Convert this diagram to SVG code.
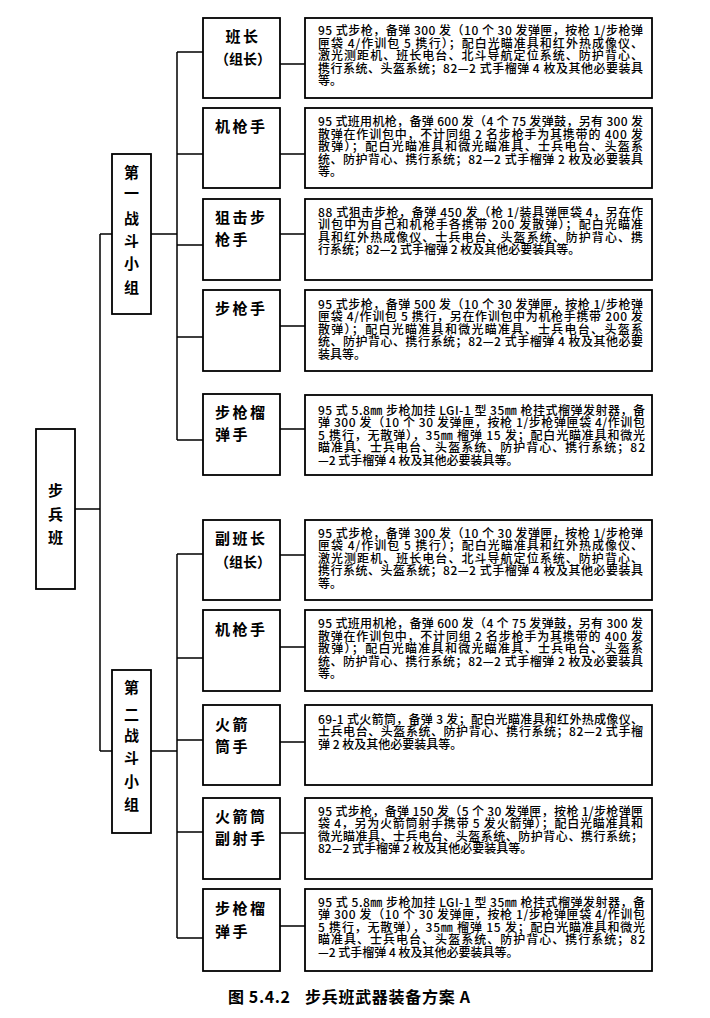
<svg xmlns="http://www.w3.org/2000/svg" width="710" height="1018" viewBox="0 0 710 1018">
<style>
.bx{fill:#fff;stroke:#000;stroke-width:1.8}
.ln{stroke:#000;stroke-width:1.5;fill:none}
.lb{font-family:"Noto Sans CJK SC","Noto Sans CJK TC",sans-serif;font-size:15px;font-weight:bold;fill:#000;letter-spacing:2.5px}
.gv{font-family:"Noto Sans CJK SC","Noto Sans CJK TC",sans-serif;font-size:15px;font-weight:bold;fill:#000;text-anchor:middle}
.ds{font-family:"Noto Sans CJK SC","Noto Sans CJK TC",sans-serif;font-size:12px;font-weight:500;fill:#000}
.cap{font-family:"Noto Sans CJK SC","Noto Sans CJK TC",sans-serif;font-size:16px;font-weight:bold;fill:#000}
</style>
<rect width="710" height="1018" fill="#fff"/>
<g id="connectors">
<path class="ln" d="M75 509H100M100 234V751M100 234H112M100 751H112"/>
<path class="ln" d="M151 234H177M177 52V440M177 52H203M177 154H203M177 245H203M177 337H203M177 440H203"/>
<path class="ln" d="M151 751H177M177 554V938M177 554H203M177 658H203M177 740H203M177 832H203M177 938H203"/>
<path class="ln" d="M280 64H305M280 154H305M280 234H305M280 326H305M280 429H305"/>
<path class="ln" d="M280 555H305M280 647H305M280 742H305M280 833H305M280 926H305"/>
</g>
<g id="squad">
<rect class="bx" x="36" y="429" width="39" height="160"/>
<text class="gv" x="55.5" y="496">步<tspan x="55.5" y="520">兵</tspan><tspan x="55.5" y="543">班</tspan></text>
</g>
<g id="group1">
<rect class="bx" x="112" y="154" width="39" height="160"/>
<text class="gv" x="131.5" y="178">第<tspan x="131.5" y="199">一</tspan><tspan x="131.5" y="224">战</tspan><tspan x="131.5" y="246">斗</tspan><tspan x="131.5" y="269">小</tspan><tspan x="131.5" y="293">组</tspan></text>
</g>
<g id="group2">
<rect class="bx" x="112" y="670" width="39" height="163"/>
<text class="gv" x="131.5" y="693">第<tspan x="131.5" y="720">二</tspan><tspan x="131.5" y="741">战</tspan><tspan x="131.5" y="763">斗</tspan><tspan x="131.5" y="787">小</tspan><tspan x="131.5" y="810">组</tspan></text>
</g>
<g id="r1">
<rect class="bx" x="203" y="18" width="77" height="80"/>
<text class="lb" x="243" y="41.5" text-anchor="middle">班长</text>
<text class="lb" x="243" y="64" text-anchor="middle" style="font-size:14px;letter-spacing:0">（组长）</text>
</g>
<g id="r2">
<rect class="bx" x="203" y="108" width="77" height="80"/>
<text class="lb" x="215" y="132">机枪手</text>
</g>
<g id="r3">
<rect class="bx" x="203" y="199" width="77" height="81"/>
<text class="lb" x="215" y="222.5">狙击步<tspan x="215" y="244.5">枪手</tspan></text>
</g>
<g id="r4">
<rect class="bx" x="203" y="290" width="77" height="81"/>
<text class="lb" x="215" y="313.5">步枪手</text>
</g>
<g id="r5">
<rect class="bx" x="203" y="394" width="77" height="81"/>
<text class="lb" x="215" y="418">步枪榴<tspan x="215" y="440">弹手</tspan></text>
</g>
<g id="r6">
<rect class="bx" x="203" y="520" width="77" height="80"/>
<text class="lb" x="215" y="543.5">副班长</text>
<text class="lb" x="243" y="567" text-anchor="middle" style="font-size:14px;letter-spacing:0">（组长）</text>
</g>
<g id="r7">
<rect class="bx" x="203" y="610" width="77" height="81"/>
<text class="lb" x="215" y="635">机枪手</text>
</g>
<g id="r8">
<rect class="bx" x="203" y="705" width="77" height="80"/>
<text class="lb" x="215" y="729.5">火箭<tspan x="215" y="751.5">筒手</tspan></text>
</g>
<g id="r9">
<rect class="bx" x="203" y="798" width="77" height="81"/>
<text class="lb" x="215" y="821.5">火箭筒<tspan x="215" y="843.5">副射手</tspan></text>
</g>
<g id="r10">
<rect class="bx" x="203" y="889" width="77" height="82"/>
<text class="lb" x="215" y="914">步枪榴<tspan x="215" y="937">弹手</tspan></text>
</g>
<g id="d1">
<rect class="bx" x="305" y="18" width="347" height="80"/>
<text class="ds"><tspan x="318" y="35" textLength="325" lengthAdjust="spacing">95 式步枪，备弹 300 发（10 个 30 发弹匣，按枪 1/步枪弹</tspan><tspan x="318" y="47.5" textLength="325" lengthAdjust="spacing">匣袋 4/作训包 5 携行）；配白光瞄准具和红外热成像仪、</tspan><tspan x="318" y="60" textLength="325" lengthAdjust="spacing">激光测距机、班长电台、北斗导航定位系统、防护背心、</tspan><tspan x="318" y="72.5" textLength="325" lengthAdjust="spacing">携行系统、头盔系统；82—2 式手榴弹 4 枚及其他必要装具</tspan><tspan x="318" y="85">等。</tspan></text>
</g>
<g id="d2">
<rect class="bx" x="305" y="108" width="347" height="80"/>
<text class="ds"><tspan x="318" y="126" textLength="325" lengthAdjust="spacing">95 式班用机枪，备弹 600 发（4 个 75 发弹鼓，另有 300 发</tspan><tspan x="318" y="138.5" textLength="325" lengthAdjust="spacing">散弹在作训包中，不计同组 2 名步枪手为其携带的 400 发</tspan><tspan x="318" y="151" textLength="325" lengthAdjust="spacing">散弹）；配白光瞄准具和微光瞄准具、士兵电台、头盔系</tspan><tspan x="318" y="163.5" textLength="325" lengthAdjust="spacing">统、防护背心、携行系统；82—2 式手榴弹 2 枚及必要装具</tspan><tspan x="318" y="176">等。</tspan></text>
</g>
<g id="d3">
<rect class="bx" x="305" y="199" width="347" height="81"/>
<text class="ds"><tspan x="318" y="216.5" textLength="325" lengthAdjust="spacing">88 式狙击步枪，备弹 450 发（枪 1/装具弹匣袋 4，另在作</tspan><tspan x="318" y="229" textLength="325" lengthAdjust="spacing">训包中为自己和机枪手各携带 200 发散弹）；配白光瞄准</tspan><tspan x="318" y="241.5" textLength="325" lengthAdjust="spacing">具和红外热成像仪、士兵电台、头盔系统、防护背心、携</tspan><tspan x="318" y="254">行系统；82—2 式手榴弹 2 枚及其他必要装具等。</tspan></text>
</g>
<g id="d4">
<rect class="bx" x="305" y="290" width="347" height="81"/>
<text class="ds"><tspan x="318" y="308.5" textLength="325" lengthAdjust="spacing">95 式步枪，备弹 500 发（10 个 30 发弹匣，按枪 1/步枪弹</tspan><tspan x="318" y="321" textLength="325" lengthAdjust="spacing">匣袋 4/作训包 5 携行，另在作训包中为机枪手携带 200 发</tspan><tspan x="318" y="333.5" textLength="325" lengthAdjust="spacing">散弹）；配白光瞄准具和微光瞄准具、士兵电台、头盔系</tspan><tspan x="318" y="346" textLength="325" lengthAdjust="spacing">统、防护背心、携行系统；82—2 式手榴弹 4 枚及其他必要</tspan><tspan x="318" y="358.5">装具等。</tspan></text>
</g>
<g id="d5">
<rect class="bx" x="305" y="395" width="347" height="80"/>
<text class="ds"><tspan x="318" y="414.5" textLength="327" lengthAdjust="spacing">95 式 5.8㎜ 步枪加挂 LGI-1 型 35㎜ 枪挂式榴弹发射器，备</tspan><tspan x="318" y="427" textLength="327" lengthAdjust="spacing">弹 300 发（10 个 30 发弹匣，按枪 1/步枪弹匣袋 4/作训包</tspan><tspan x="318" y="439.5" textLength="327" lengthAdjust="spacing">5 携行，无散弹），35㎜ 榴弹 15 发；配白光瞄准具和微光</tspan><tspan x="318" y="452" textLength="327" lengthAdjust="spacing">瞄准具、士兵电台、头盔系统、防护背心、携行系统；82</tspan><tspan x="318" y="464.5">—2 式手榴弹 4 枚及其他必要装具等。</tspan></text>
</g>
<g id="d6">
<rect class="bx" x="305" y="520" width="347" height="80"/>
<text class="ds"><tspan x="318" y="537.5" textLength="325" lengthAdjust="spacing">95 式步枪，备弹 300 发（10 个 30 发弹匣，按枪 1/步枪弹</tspan><tspan x="318" y="550" textLength="325" lengthAdjust="spacing">匣袋 4/作训包 5 携行）；配白光瞄准具和红外热成像仪、</tspan><tspan x="318" y="562.5" textLength="325" lengthAdjust="spacing">激光测距机、班长电台、北斗导航定位系统、防护背心、</tspan><tspan x="318" y="575" textLength="325" lengthAdjust="spacing">携行系统、头盔系统；82—2 式手榴弹 4 枚及其他必要装具</tspan><tspan x="318" y="587.5">等。</tspan></text>
</g>
<g id="d7">
<rect class="bx" x="305" y="610" width="347" height="81"/>
<text class="ds"><tspan x="318" y="628" textLength="325" lengthAdjust="spacing">95 式班用机枪，备弹 600 发（4 个 75 发弹鼓，另有 300 发</tspan><tspan x="318" y="640.5" textLength="325" lengthAdjust="spacing">散弹在作训包中，不计同组 2 名步枪手为其携带的 400 发</tspan><tspan x="318" y="653" textLength="325" lengthAdjust="spacing">散弹）；配白光瞄准具和微光瞄准具、士兵电台、头盔系</tspan><tspan x="318" y="665.5" textLength="325" lengthAdjust="spacing">统、防护背心、携行系统；82—2 式手榴弹 2 枚及必要装具</tspan><tspan x="318" y="678">等。</tspan></text>
</g>
<g id="d8">
<rect class="bx" x="305" y="705" width="347" height="80"/>
<text class="ds"><tspan x="318" y="723.5" textLength="325" lengthAdjust="spacing">69-1 式火箭筒，备弹 3 发；配白光瞄准具和红外热成像仪、</tspan><tspan x="318" y="736" textLength="325" lengthAdjust="spacing">士兵电台、头盔系统、防护背心、携行系统；82—2 式手榴</tspan><tspan x="318" y="748.5">弹 2 枚及其他必要装具等。</tspan></text>
</g>
<g id="d9">
<rect class="bx" x="305" y="798" width="347" height="81"/>
<text class="ds"><tspan x="318" y="815.5" textLength="325" lengthAdjust="spacing">95 式步枪，备弹 150 发（5 个 30 发弹匣，按枪 1/步枪弹匣</tspan><tspan x="318" y="828" textLength="325" lengthAdjust="spacing">袋 4，另为火箭筒射手携带 5 发火箭弹）；配白光瞄准具和</tspan><tspan x="318" y="840.5" textLength="325" lengthAdjust="spacing">微光瞄准具、士兵电台、头盔系统、防护背心、携行系统；</tspan><tspan x="318" y="853">82—2 式手榴弹 2 枚及其他必要装具等。</tspan></text>
</g>
<g id="d10">
<rect class="bx" x="305" y="889" width="347" height="82"/>
<text class="ds"><tspan x="318" y="906.5" textLength="327" lengthAdjust="spacing">95 式 5.8㎜ 步枪加挂 LGI-1 型 35㎜ 枪挂式榴弹发射器，备</tspan><tspan x="318" y="919" textLength="327" lengthAdjust="spacing">弹 300 发（10 个 30 发弹匣，按枪 1/步枪弹匣袋 4/作训包</tspan><tspan x="318" y="931.5" textLength="327" lengthAdjust="spacing">5 携行，无散弹），35㎜ 榴弹 15 发；配白光瞄准具和微光</tspan><tspan x="318" y="944" textLength="327" lengthAdjust="spacing">瞄准具、士兵电台、头盔系统、防护背心、携行系统；82</tspan><tspan x="318" y="956.5">—2 式手榴弹 4 枚及其他必要装具等。</tspan></text>
</g>
<g id="caption">
<text class="cap" x="228" y="1003" textLength="62" lengthAdjust="spacing">图 5.4.2</text>
<text class="cap" x="305" y="1003" textLength="165" lengthAdjust="spacing">步兵班武器装备方案 A</text>
</g>
</svg>
